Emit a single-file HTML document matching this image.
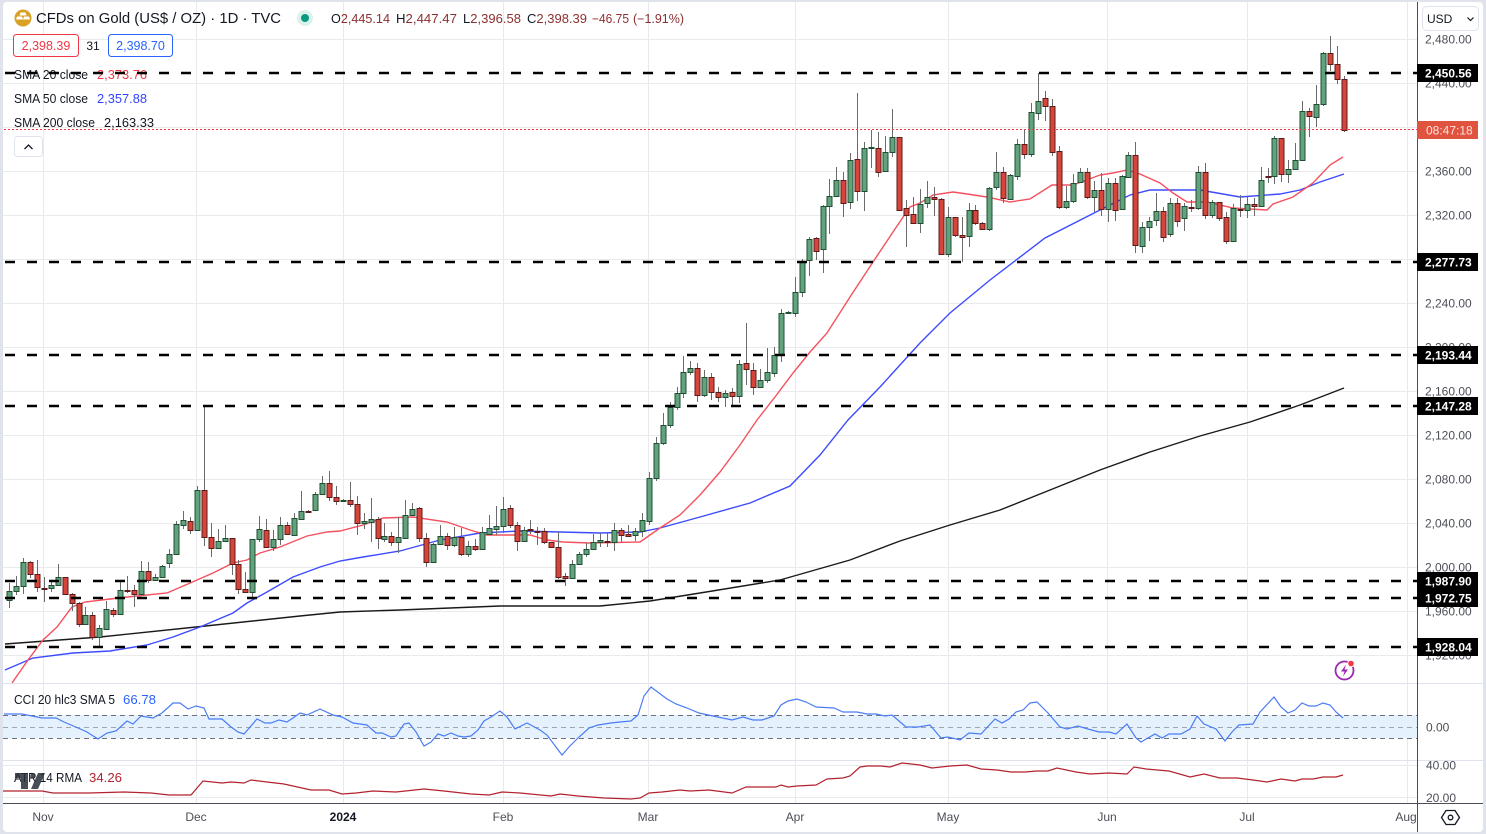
<!DOCTYPE html>
<html><head><meta charset="utf-8">
<style>
html,body{margin:0;padding:0;background:#fff;}
svg{display:block;font-family:"Liberation Sans",sans-serif;}
</style></head>
<body>
<svg id="c" width="1486" height="834" viewBox="0 0 1486 834" xmlns="http://www.w3.org/2000/svg">
<defs>
<clipPath id="mainclip"><rect x="3" y="2" width="1414" height="681"/></clipPath>
<clipPath id="ccic"><rect x="3" y="684" width="1414" height="76"/></clipPath>
</defs>
<rect width="1486" height="834" fill="#e0e3eb"/>
<rect x="3" y="2" width="1480" height="830" rx="4" fill="#ffffff"/>

<!-- grid -->
<g stroke="#e9eaee" stroke-width="1" shape-rendering="crispEdges">
<line x1="43.5" y1="2" x2="43.5" y2="803"/>
<line x1="196.5" y1="2" x2="196.5" y2="803"/>
<line x1="343.5" y1="2" x2="343.5" y2="803"/>
<line x1="503.5" y1="2" x2="503.5" y2="803"/>
<line x1="648.5" y1="2" x2="648.5" y2="803"/>
<line x1="795.5" y1="2" x2="795.5" y2="803"/>
<line x1="948.5" y1="2" x2="948.5" y2="803"/>
<line x1="1107.5" y1="2" x2="1107.5" y2="803"/>
<line x1="1247.5" y1="2" x2="1247.5" y2="803"/>
<line x1="1407.5" y1="2" x2="1407.5" y2="803"/>
<line x1="3" y1="39.5" x2="1417" y2="39.5"/>
<line x1="3" y1="83.5" x2="1417" y2="83.5"/>
<line x1="3" y1="127.5" x2="1417" y2="127.5"/>
<line x1="3" y1="171.5" x2="1417" y2="171.5"/>
<line x1="3" y1="215.5" x2="1417" y2="215.5"/>
<line x1="3" y1="259.5" x2="1417" y2="259.5"/>
<line x1="3" y1="303.5" x2="1417" y2="303.5"/>
<line x1="3" y1="347.5" x2="1417" y2="347.5"/>
<line x1="3" y1="391.5" x2="1417" y2="391.5"/>
<line x1="3" y1="435.5" x2="1417" y2="435.5"/>
<line x1="3" y1="479.5" x2="1417" y2="479.5"/>
<line x1="3" y1="523.5" x2="1417" y2="523.5"/>
<line x1="3" y1="567.5" x2="1417" y2="567.5"/>
<line x1="3" y1="611.5" x2="1417" y2="611.5"/>
<line x1="3" y1="655.5" x2="1417" y2="655.5"/>
<line x1="3" y1="765.5" x2="1417" y2="765.5"/>
<line x1="3" y1="797.5" x2="1417" y2="797.5"/>
</g>

<!-- CCI band -->
<rect x="3" y="715" width="1414" height="23" fill="#e5f1fd"/>
<g stroke="#6f727c" stroke-width="1" stroke-dasharray="5 4" shape-rendering="crispEdges">
<line x1="3" y1="715.5" x2="1417" y2="715.5"/>
<line x1="3" y1="738.5" x2="1417" y2="738.5"/>
</g>
<line x1="3" y1="727.5" x2="1417" y2="727.5" stroke="#a3a6ae" stroke-width="1" stroke-dasharray="5 4" shape-rendering="crispEdges"/>

<!-- pane separators -->
<g stroke="#e0e3eb" stroke-width="1" shape-rendering="crispEdges">
<line x1="3" y1="683.5" x2="1483" y2="683.5"/>
<line x1="3" y1="760.5" x2="1483" y2="760.5"/>
</g>

<g clip-path="url(#mainclip)">
<!-- SMA200 -->
<polyline fill="none" stroke="#1a1a1a" stroke-width="1.4" points="5,644 100,637 196,627 300,616 340,612 400,610 500,606 600,606 650,601 700,593 780,580 850,560 900,541 950,525 1000,510 1050,490 1100,470 1150,452 1200,436 1250,422 1300,405 1344,388"/>
<!-- SMA50 -->
<polyline fill="none" stroke="#3d4bff" stroke-width="1.4" points="5,670 33,658 73,653 110,651 147,645 173,637 200,627 233,613 247,603 267,592 293,577 320,567 340,561 363,557 400,551 440,540 480,533 520,531 560,532 600,533 640,532 660,528 700,517 750,503 790,486 820,455 848,420 880,387 920,343 950,313 990,280 1045,238 1100,210 1130,195 1150,190 1200,190 1240,197 1280,194 1300,190 1320,182 1344,174"/>
<!-- SMA20 -->
<polyline fill="none" stroke="#f4505e" stroke-width="1.4" points="12,683 28,660 43,640 57,627 72,607 85,602 110,599 127,597 167,593 197,580 213,573 233,563 247,560 260,553 280,547 307,536 327,532 340,531 363,525 383,518 413,517 447,522 470,530 487,535 530,535 547,540 563,542 590,543 640,542 660,528 680,515 700,495 720,472 740,445 757,420 775,397 793,373 810,352 827,333 850,297 873,262 893,232 910,207 920,203 933,195 953,192 967,194 987,197 1010,202 1030,199 1052,185 1073,185 1100,175 1113,173 1127,170 1140,174 1160,183 1173,193 1187,202 1207,202 1233,208 1267,210 1273,204 1293,197 1313,183 1330,165 1343,157"/>
<g id="candles"></g>
</g>

<!-- red dotted current price line -->
<line x1="4" y1="129.5" x2="1417" y2="129.5" stroke="#f23645" stroke-width="1" stroke-dasharray="2 2" shape-rendering="crispEdges"/>

<!-- header texts -->
<circle cx="23" cy="18" r="8.5" fill="#d9a126"/>
<path d="M20.5 12.5 h5 l1 3 h-7 z M17 16.5 h5 l1 3 h-7 z M24 16.5 h5 l1 3 h-7 z" fill="#fff"/>
<text x="36" y="23" font-size="14.5" fill="#131722" textLength="245" lengthAdjust="spacingAndGlyphs">CFDs on Gold (US$ / OZ) · 1D · TVC</text>
<circle cx="305" cy="18" r="8" fill="#dcf1ea"/>
<circle cx="305" cy="18" r="4" fill="#089981"/>
<g font-size="12.5">
<text x="331" y="23" textLength="59" lengthAdjust="spacingAndGlyphs"><tspan fill="#131722">O</tspan><tspan fill="#8e2f2f">2,445.14</tspan></text>
<text x="396" y="23" textLength="61" lengthAdjust="spacingAndGlyphs"><tspan fill="#131722">H</tspan><tspan fill="#8e2f2f">2,447.47</tspan></text>
<text x="463" y="23" textLength="58" lengthAdjust="spacingAndGlyphs"><tspan fill="#131722">L</tspan><tspan fill="#8e2f2f">2,396.58</tspan></text>
<text x="527" y="23" textLength="60" lengthAdjust="spacingAndGlyphs"><tspan fill="#131722">C</tspan><tspan fill="#8e2f2f">2,398.39</tspan></text>
<text x="592" y="23" fill="#8e2f2f" textLength="37" lengthAdjust="spacingAndGlyphs">−46.75</text>
<text x="633" y="23" fill="#8e2f2f" textLength="51" lengthAdjust="spacingAndGlyphs">(−1.91%)</text>
</g>

<rect x="13.5" y="34.5" width="65" height="22" rx="3" fill="#fff" stroke="#f23645" stroke-width="1"/>
<text x="46" y="50" font-size="12.5" fill="#f23645" text-anchor="middle">2,398.39</text>
<text x="93" y="50" font-size="12" fill="#131722" text-anchor="middle">31</text>
<rect x="108.5" y="34.5" width="64" height="22" rx="3" fill="#fff" stroke="#2962ff" stroke-width="1"/>
<text x="140.5" y="50" font-size="12.5" fill="#2962ff" text-anchor="middle">2,398.70</text>

<g font-size="13">
<text x="14" y="79" fill="#131722" textLength="74" lengthAdjust="spacingAndGlyphs">SMA 20 close</text>
<text x="97" y="79" fill="#f23645" textLength="50" lengthAdjust="spacingAndGlyphs">2,373.76</text>
<text x="14" y="103" fill="#131722" textLength="74" lengthAdjust="spacingAndGlyphs">SMA 50 close</text>
<text x="97" y="103" fill="#3344ff" textLength="50" lengthAdjust="spacingAndGlyphs">2,357.88</text>
<text x="14" y="127" fill="#131722" textLength="81" lengthAdjust="spacingAndGlyphs">SMA 200 close</text>
<text x="104" y="127" fill="#131722" textLength="50" lengthAdjust="spacingAndGlyphs">2,163.33</text>
</g>
<rect x="14.5" y="136.5" width="28" height="20" rx="3" fill="#fff" stroke="#e0e3eb"/>
<path d="M24.5 149 L28.5 145 L32.5 149" fill="none" stroke="#131722" stroke-width="1.3"/>

<!-- dashed levels -->
<g stroke="#000" stroke-width="2.6" stroke-dasharray="10 12" fill="none">
<line x1="5" y1="73" x2="1417" y2="73"/>
<line x1="5" y1="262" x2="1417" y2="262"/>
<line x1="5" y1="355" x2="1417" y2="355"/>
<line x1="5" y1="406" x2="1417" y2="406"/>
<line x1="5" y1="581" x2="1417" y2="581"/>
<line x1="5" y1="598" x2="1417" y2="598"/>
<line x1="5" y1="647" x2="1417" y2="647"/>
</g>

<!-- CCI line -->
<g clip-path="url(#ccic)">
<polyline fill="none" stroke="#4a7cf5" stroke-width="1.2" points="4,714 22,714 42,718 56,718 64,722 78,728 87,732 98,739 107,733 116,731 127,721 133,724 141,716 153,718 162,713 173,703 180,703 188,709 196,706 204,708 209,719 222,719 231,727 238,732 244,734 257,719 265,723 271,723 279,720 287,722 293,718 300,713 307,715 320,709 333,715 342,717 353,723 367,725 376,733 382,733 391,737 396,736 404,724 409,723 416,732 424,746 431,742 438,734 444,736 451,733 458,736 464,737 471,736 478,730 484,721 491,717 500,711 507,717 515,729 527,723 540,730 547,735 562,755 569,747 578,738 589,728 598,725 611,723 620,722 631,721 638,715 644,696 651,687 667,699 676,704 687,708 699,713 713,716 732,720 743,717 753,720 762,720 774,716 781,705 788,701 797,699 806,702 816,707 834,708 843,712 857,712 867,714 876,714 885,716 892,715 906,727 918,727 930,725 941,738 948,737 960,740 969,733 981,734 995,719 1002,723 1009,719 1016,712 1023,710 1030,703 1037,702 1048,713 1060,727 1067,729 1078,726 1088,729 1099,732 1109,732 1116,734 1127,724 1136,738 1141,742 1155,734 1162,738 1169,734 1181,734 1190,729 1197,716 1204,724 1216,729 1225,741 1232,732 1239,725 1253,724 1260,712 1274,697 1281,707 1288,713 1295,710 1302,703 1309,706 1316,706 1323,703 1330,705 1336,712 1343,718"/>
</g>
<text x="14" y="704" font-size="12.5" fill="#131722" textLength="101" lengthAdjust="spacingAndGlyphs">CCI 20 hlc3 SMA 5</text>
<text x="123" y="704" font-size="12.5" fill="#2962ff" textLength="33" lengthAdjust="spacingAndGlyphs">66.78</text>

<!-- ATR line -->
<polyline fill="none" stroke="#b3222f" stroke-width="1.2" points="3,791 42,791 53,793 89,793 124,792 151,793 169,795 191,795 203,781 222,783 231,782 244,783 251,780 267,782 284,784 311,790 329,790 342,794 356,793 373,791 396,792 424,789 444,791 471,794 489,795 502,792 520,793 551,796 560,794 578,796 604,798 631,799 640,798 649,793 662,792 680,790 690,791 709,790 732,793 746,787 764,787 776,787 781,785 788,787 797,786 816,785 827,779 843,778 850,776 860,767 867,766 881,766 890,767 902,763 911,764 920,765 932,768 950,766 967,765 981,769 997,770 1011,772 1025,772 1037,771 1048,771 1057,768 1076,772 1090,774 1109,773 1127,774 1134,767 1146,769 1169,771 1190,777 1204,774 1220,778 1237,778 1253,780 1267,782 1281,779 1295,781 1302,779 1313,779 1323,777 1336,777 1343,775"/>
<text x="14" y="782" font-size="12.5" fill="#131722" textLength="68" lengthAdjust="spacingAndGlyphs">ATR 14 RMA</text>
<text x="89" y="782" font-size="12.5" fill="#b3222f" textLength="33" lengthAdjust="spacingAndGlyphs">34.26</text>
<g fill="#2a2e39" opacity="0.85">
<rect x="15" y="773" width="13" height="5"/>
<rect x="21" y="773" width="7" height="16"/>
<circle cx="33" cy="776" r="2.6"/>
<path d="M38 773 h7 l-7 16 h-7 z"/>
</g>

<!-- lightning icon -->
<circle cx="1344.5" cy="670.5" r="9" fill="#fff" stroke="#9c27b0" stroke-width="1.8"/>
<path d="M1346 664.5 L1341 671.5 L1344.5 671.5 L1343 676.5 L1348 669.5 L1344.5 669.5 Z" fill="#9c27b0"/>
<circle cx="1351" cy="663.5" r="3.3" fill="#f23645" stroke="#fff" stroke-width="1"/>

<!-- axes lines -->
<line x1="1417.5" y1="2" x2="1417.5" y2="832" stroke="#4a4d55" stroke-width="1" shape-rendering="crispEdges"/>
<line x1="3" y1="803.5" x2="1483" y2="803.5" stroke="#4a4d55" stroke-width="1" shape-rendering="crispEdges"/>

<!-- price axis ticks -->
<g font-size="12" fill="#4c4f57">
<text x="1425" y="43.5">2,480.00</text>
<text x="1425" y="87.5">2,440.00</text>
<text x="1425" y="175.5">2,360.00</text>
<text x="1425" y="219.5">2,320.00</text>
<text x="1425" y="307.5">2,240.00</text>
<text x="1425" y="351.5">2,200.00</text>
<text x="1425" y="395.5">2,160.00</text>
<text x="1425" y="439.5">2,120.00</text>
<text x="1425" y="483.5">2,080.00</text>
<text x="1425" y="527.5">2,040.00</text>
<text x="1425" y="571.5">2,000.00</text>
<text x="1425" y="615.5">1,960.00</text>
<text x="1425" y="659.5">1,920.00</text>
<text x="1426" y="731.5">0.00</text>
<text x="1426" y="769.5">40.00</text>
<text x="1426" y="802">20.00</text>
</g>
<!-- level labels -->
<g>
<rect x="1417" y="64" width="61" height="18" fill="#000"/>
<rect x="1417" y="253" width="61" height="18" fill="#000"/>
<rect x="1417" y="346" width="61" height="18" fill="#000"/>
<rect x="1417" y="397" width="61" height="18" fill="#000"/>
<rect x="1417" y="572" width="61" height="18" fill="#000"/>
<rect x="1417" y="589" width="61" height="18" fill="#000"/>
<rect x="1417" y="638" width="61" height="18" fill="#000"/>
<rect x="1417" y="121" width="61" height="18" fill="#e0533f"/>
</g>
<g font-size="12" font-weight="bold" fill="#fff">
<text x="1425" y="77.5">2,450.56</text>
<text x="1425" y="266.5">2,277.73</text>
<text x="1425" y="359.5">2,193.44</text>
<text x="1425" y="410.5">2,147.28</text>
<text x="1425" y="585.5">1,987.90</text>
<text x="1425" y="602.5">1,972.75</text>
<text x="1425" y="651.5">1,928.04</text>
</g>
<text x="1426" y="134.5" font-size="12" fill="#fde3df">08:47:18</text>

<!-- USD -->
<rect x="1422.5" y="6.5" width="56" height="24" rx="4" fill="#fff" stroke="#e0e3eb"/>
<text x="1427" y="23" font-size="12" fill="#131722">USD</text>
<path d="M1467.5 17.5 l3 3 l3 -3" fill="none" stroke="#131722" stroke-width="1.2"/>

<!-- time axis -->
<g font-size="12" fill="#4c4f57" text-anchor="middle">
<text x="43" y="821">Nov</text>
<text x="196" y="821">Dec</text>
<text x="343" y="821" font-weight="bold" fill="#131722">2024</text>
<text x="503" y="821">Feb</text>
<text x="648" y="821">Mar</text>
<text x="795" y="821">Apr</text>
<text x="948" y="821">May</text>
<text x="1107" y="821">Jun</text>
<text x="1247" y="821">Jul</text>
<text x="1406" y="821">Aug</text>
</g>
<!-- gear -->
<path d="M1446 810.5 h9 l4.5 7 l-4.5 7 h-9 l-4.5 -7 z" fill="none" stroke="#131722" stroke-width="1.3"/>
<circle cx="1450.5" cy="817.5" r="2.3" fill="none" stroke="#131722" stroke-width="1.3"/>
</svg>
<script>
(function(){
var D=[
['g',591,600,583,608],['g',586,591,576,595],['g',562,586,558,594],['r',562,574,561,578],['r',574,587,560,592],
['r',588,589,577,602],['g',585,588,580,592],['g',577,585,564,586],['r',577,594,577,595],['r',594,603,593,611],
['r',603,624,602,627],['g',615,624,607,625],['r',615,637,612,640],['g',628,637,625,648],['g',609,629,601,630],
['r',610,614,608,617],['g',590,614,582,615],['r',590,591,576,593],['r',590,594,585,607],['g',571,594,561,595],
['r',571,580,562,583],['g',577,580,574,581],['g',566,577,565,578],['g',554,563,549,568],['g',524,554,521,555],
['g',520,525,511,529],['r',521,530,517,534],['g',490,530,486,530],['r',490,537,407,546],['r',537,548,523,557],
['g',541,548,529,549],['g',538,541,525,542],['r',538,564,538,575],['r',564,589,560,594],['r',589,592,572,593],
['g',539,592,539,599],['g',529,539,516,542],['r',530,547,519,548],['g',539,547,530,551],['g',525,539,517,545],
['r',525,534,522,535],['g',518,535,513,536],['g',511,519,491,520],['r',511,512,510,513],['g',494,510,492,511],
['g',483,494,476,495],['r',483,497,471,501],['r',497,501,486,505],['g',500,501,499,501],['r',500,504,482,507],
['r',504,523,496,535],['g',521,523,513,529],['g',519,522,498,542],['r',519,538,517,549],['g',536,539,523,542],
['r',536,542,532,546],['g',537,542,517,553],['g',515,538,500,539],['g',509,515,503,516],['r',508,538,507,542],
['r',538,562,533,567],['g',544,562,543,563],['g',536,544,525,545],['r',536,545,533,550],['g',537,545,527,547],
['r',537,554,528,556],['g',546,554,541,557],['r',546,549,539,551],['g',532,549,527,550],['g',528,534,515,535],
['g',526,529,506,535],['g',509,526,497,533],['r',508,525,505,528],['r',525,541,522,551],['g',530,541,527,542],
['r',529,530,520,534],['r',531,532,527,545],['r',531,542,528,544],['r',542,547,542,548],['r',547,577,532,579],
['r',576,578,573,586],['g',564,578,560,579],['g',554,564,552,565],['g',549,554,543,557],['g',542,549,534,550],
['g',540,542,533,547],['r',541,542,533,547],['g',530,542,523,551],['r',530,535,528,542],['r',534,536,525,537],
['g',531,535,528,541],['g',520,531,513,537],['g',478,521,472,525],['g',443,478,437,481],['g',425,443,413,445],
['g',407,425,402,428],['g',393,407,387,410],['g',372,393,356,398],['g',368,372,361,375],['r',368,395,363,402],
['g',377,395,370,397],['r',377,392,373,400],['r',392,397,387,402],['g',393,397,390,407],['r',392,396,388,407],
['g',364,396,360,403],['r',363,369,323,385],['r',370,387,363,395],['g',380,387,369,388],['g',372,380,348,383],
['g',355,373,347,377],['g',313,355,309,362],['g',312,313,311,314],['g',292,313,277,317],['g',262,292,259,297],
['g',239,260,237,276],['r',238,251,237,260],['g',206,249,205,273],['g',196,206,179,234],['g',180,196,167,197],
['r',180,203,172,217],['g',160,202,153,209],['r',159,191,93,201],['g',148,191,142,211],['g',147,148,130,168],
['r',148,172,132,177],['g',152,171,136,172],['g',137,152,109,157],['r',137,210,137,211],['r',208,215,200,247],
['r',214,223,197,224],['g',204,223,189,233],['g',197,203,181,208],['r',197,199,187,216],['r',199,254,198,254],
['g',217,254,207,257],['r',217,235,217,237],['r',235,237,217,262],['g',210,236,203,247],['r',210,223,205,225],
['r',223,229,222,230],['g',188,229,187,231],['g',172,187,152,190],['r',172,198,167,203],['g',175,199,174,200],
['g',144,176,139,180],['r',144,154,130,159],['g',112,154,103,157],['g',101,113,73,120],['r',98,106,91,121],
['r',106,152,99,156],['r',151,207,146,209],['g',201,207,186,209],['g',183,201,174,203],['g',172,182,168,183],
['r',172,197,168,199],['g',190,197,181,212],['r',190,209,173,216],['g',183,209,178,222],['r',183,210,178,221],
['g',176,209,175,210],['g',155,177,152,178],['r',155,245,142,253],['g',227,246,222,253],['g',221,227,217,241],
['g',211,220,193,226],['r',211,237,207,242],['g',203,234,198,237],['r',203,221,198,227],['g',206,218,203,231],
['r',207,208,200,212],['g',172,208,166,210],['r',172,215,163,219],['g',202,215,200,218],['r',202,218,202,221],
['r',217,241,212,244],['g',208,241,204,241],['r',209,210,195,217],['g',204,210,196,218],['r',204,206,198,216],
['g',180,206,167,207],['r',176,177,168,183],['g',138,176,136,184],['r',138,174,138,182],['g',169,174,160,183],
['g',160,169,143,170],['g',111,160,101,161],['r',111,116,108,137],['g',104,117,85,127],['g',53,104,52,106],
['r',53,64,36,71],['r',64,79,46,84],['r',79,130,76,132]
];
var n=D.length, step=(1344-9)/(n-1), s='';
for(var i=0;i<n;i++){
 var d=D[i], x=Math.round(9+i*step);
 var fill=d[0]=='g'?'#62a27d':'#d6453a', st=d[0]=='g'?'#1f4f33':'#5c1a1a';
 s+='<line x1="'+(x+0.5)+'" y1="'+d[3]+'" x2="'+(x+0.5)+'" y2="'+d[4]+'" stroke="#6b6b6b" stroke-width="1"/>';
 var h=Math.max(1,d[2]-d[1]);
 s+='<rect x="'+(x-2)+'" y="'+(d[1]+0.5)+'" width="5" height="'+h+'" fill="'+fill+'" stroke="'+st+'" stroke-width="1"/>';
}
document.getElementById('candles').innerHTML=s;
})();
</script>
</body></html>
